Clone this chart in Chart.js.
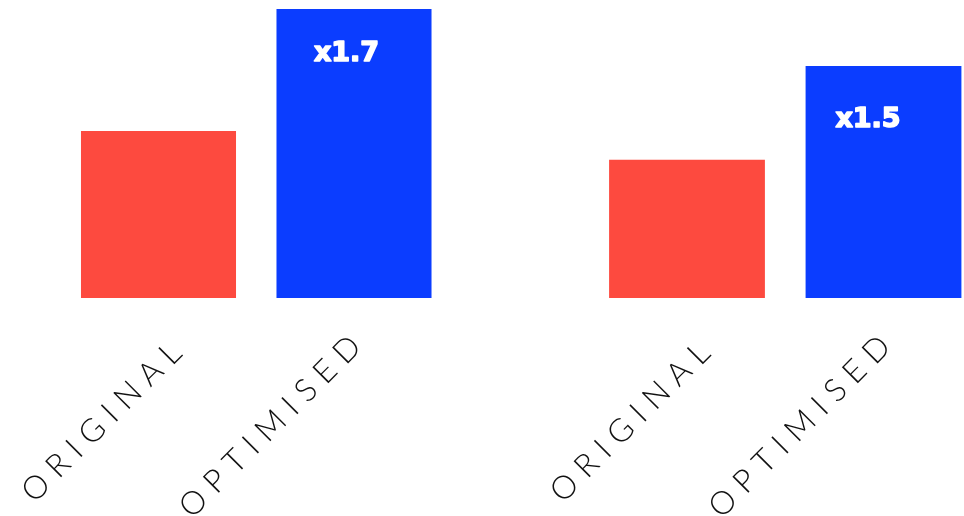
<!DOCTYPE html>
<html>
<head>
<meta charset="utf-8">
<script src="https://cdn.jsdelivr.net/npm/chart.js@4.4.1/dist/chart.umd.min.js"></script>
<style>
  html, body { margin: 0; padding: 0; background: #ffffff; width: 964px; height: 516px; overflow: hidden; position: relative; }
  .box { position: absolute; top: 0; height: 516px; }
  #boxA { left: 0; width: 482px; }
  #boxB { left: 482px; width: 500px; }
</style>
</head>
<body>
<div class="box" id="boxA"><canvas id="chartA"></canvas></div>
<div class="box" id="boxB"><canvas id="chartB"></canvas></div>
<script>
// ---- data ----
const categories = ['ORIGINAL', 'OPTIMISED'];
const leftValues = [57.8, 100];
const rightValues = [47.8, 80.3];
const leftBadges = ['', 'x1.7'];
const rightBadges = ['', 'x1.5'];
const barColors = ['#FD4A3F', '#0B3DFF'];

const SPACING = '9.2px';
const spacingPlugin = {
  id: 'spacing',
  beforeLayout(chart) { chart.ctx.letterSpacing = SPACING; },
  afterLayout(chart) {
    // let the second label axis share the first one's band under the bars
    const a = chart.scales.x, b = chart.scales.x2;
    b.top = a.top; b.bottom = a.bottom; b.height = a.height;
  },
  beforeDraw(chart) { chart.ctx.letterSpacing = SPACING; }
};

const badgePlugin = {
  id: 'badge',
  afterDatasetsDraw(chart, args, opts) {
    const ctx = chart.ctx;
    const meta = chart.getDatasetMeta(0);
    ctx.save();
    ctx.letterSpacing = '0px';
    ctx.fillStyle = '#ffffff';
    ctx.strokeStyle = '#ffffff';
    ctx.lineWidth = 1.6;
    ctx.lineJoin = 'round';
    ctx.font = 'bold 27px "DejaVu Sans"';
    ctx.textAlign = 'center';
    ctx.textBaseline = 'middle';
    meta.data.forEach((bar, i) => {
      const t = opts.labels[i];
      if (t) {
        ctx.strokeText(t, bar.x + opts.dx, bar.y + opts.dy);
        ctx.fillText(t, bar.x + opts.dx, bar.y + opts.dy);
      }
    });
    ctx.restore();
  }
};

const tickFont = { family: 'Lato', weight: 300, size: 32 };

// one axis per category label so each label can sit at its own spot
function labelAxis(showIndex, labelOffset, padding, height, weight) {
  return {
    type: 'category',
    position: 'bottom',
    offset: true,
    weight: weight,
    grid: { display: false, drawTicks: false },
    border: { display: false },
    ticks: {
      autoSkip: false,
      minRotation: 45,
      maxRotation: 45,
      padding: padding,
      labelOffset: labelOffset,
      color: '#111111',
      font: tickFont,
      callback: (v, i) => (i === showIndex ? categories[i] : '')
    },
    afterFit(scale) {
      scale.height = height;
      scale.paddingLeft = 0;
      scale.paddingRight = 0;
    }
  };
}

function makeChart(id, values, badges, padL, padR, dx, dy) {
  return new Chart(document.getElementById(id), {
    type: 'bar',
    data: {
      labels: categories,
      datasets: [{
        data: values,
        backgroundColor: barColors,
        borderWidth: 0,
        barPercentage: 0.793,
        categoryPercentage: 1.0
      }]
    },
    options: {
      responsive: true,
      maintainAspectRatio: false,
      animation: false,
      layout: { padding: { top: 9, left: padL, right: padR, bottom: 0 } },
      plugins: {
        legend: { display: false },
        tooltip: { enabled: false },
        badge: { labels: badges, dx: dx, dy: dy }
      },
      scales: {
        x: labelAxis(0, 24.1, 29.6, 218, 0),
        x2: labelAxis(1, 8.1, 23.2, 0, 1),
        y: { display: false, min: 0, max: 100 }
      }
    },
    plugins: [spacingPlugin, badgePlugin]
  });
}

makeChart('chartA', leftValues, leftBadges, 60.75, 30.25, -7.5, 45);
makeChart('chartB', rightValues, rightBadges, 106.75, 0.25, -15.5, 54);
</script>
</body>
</html>
